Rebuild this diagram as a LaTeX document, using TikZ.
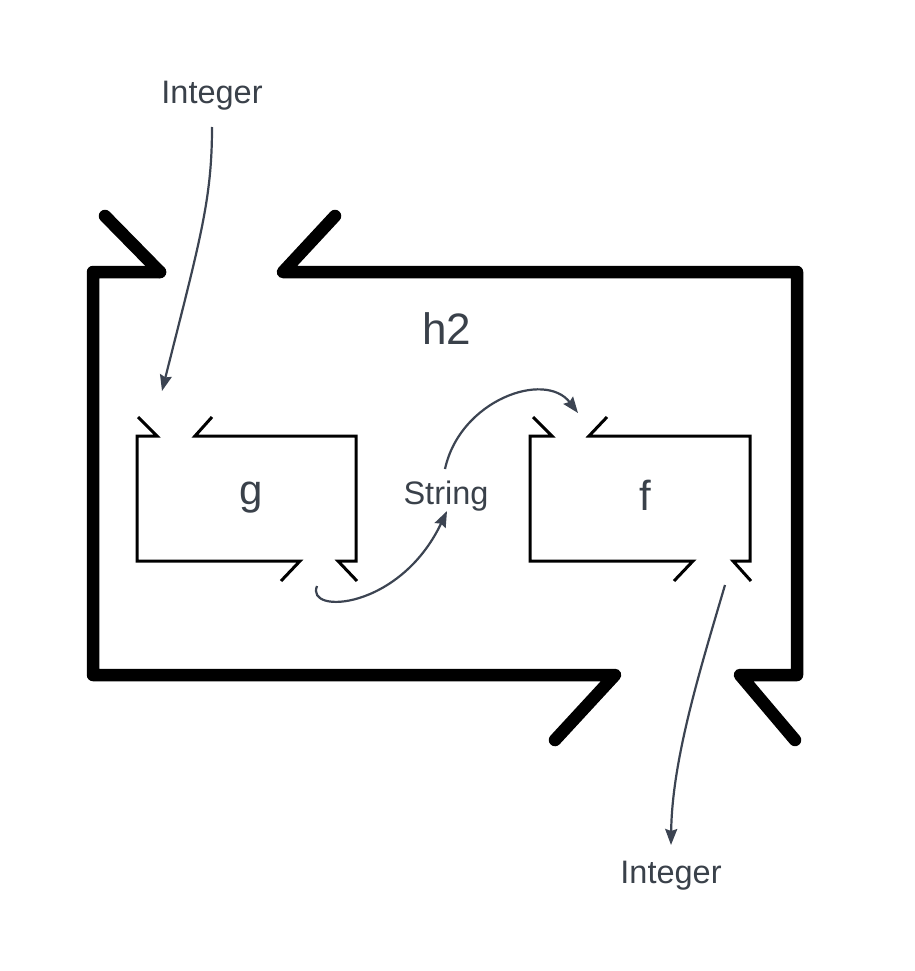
\documentclass[tikz,border=0pt]{standalone}
\usepackage{fontspec}
\setmainfont{Liberation Sans}
\usetikzlibrary{arrows.meta}
\definecolor{txt}{HTML}{3A414A}
\definecolor{arr}{HTML}{3C4452}
\begin{document}
\begin{tikzpicture}[x=1pt,y=-1pt,
  big/.style={line width=12.5pt,line cap=round,line join=round,black},
  small/.style={line width=3pt,line join=miter,black},
  lbl/.style={text=txt,inner sep=0pt,font=\fontsize{32.5}{36}\selectfont},
  title/.style={text=txt,inner sep=0pt,font=\fontsize{44}{50}\selectfont},
  conn/.style={arr,line width=2.2pt,-{Stealth[length=16pt,width=12pt,inset=2pt]}}]
\useasboundingbox (0,0) rectangle (914,971);
% big box h2
\draw[big] (160,272) -- (93,272) -- (93,675) -- (615,675) -- (555,740);
\draw[big] (160,272) -- (105,216);
\draw[big] (335,216) -- (283,272) -- (797,272) -- (797,675) -- (740,675) -- (795,740);
% box g
\draw[small] (138,417) -- (157,436) -- (137,436) -- (137,561) -- (300,561) -- (281,581);
\draw[small] (212,417) -- (195,436) -- (356,436) -- (356,561) -- (338,561) -- (357,581);
% box f
\draw[small] (533,417) -- (552,436) -- (530,436) -- (530,561) -- (693,561) -- (674,581);
\draw[small] (607,417) -- (589,436) -- (750,436) -- (750,561) -- (733,561) -- (751,581);
% labels
\node[title] (h2) at (447,329) {h2};
\node[title,font=\fontsize{42}{48}\selectfont] (g) at (251,498) {g};
\node[title,font=\fontsize{42}{48}\selectfont] (f) at (645,495) {f};
\node[lbl] (s) at (446,496) {String};
\node[lbl] (i1) at (212,96) {Integer};
\node[lbl] (i2) at (671,876) {Integer};
% port coordinates
\coordinate (gin) at (162,391);
\coordinate (gout) at (317,586);
\coordinate (fin) at (578,413);
\coordinate (fout) at (725,585);
% connectors
\draw[conn] (212,127) .. controls (212,200) and (200,240) .. (gin);
\draw[conn] (gout) .. controls (305,615) and (400,610) .. (447,511);
\draw[conn] (445,469) .. controls (460,400) and (545,370) .. (fin);
\draw[conn] (fout) .. controls (700,670) and (672,760) .. (671,845);
\end{tikzpicture}
\end{document}
